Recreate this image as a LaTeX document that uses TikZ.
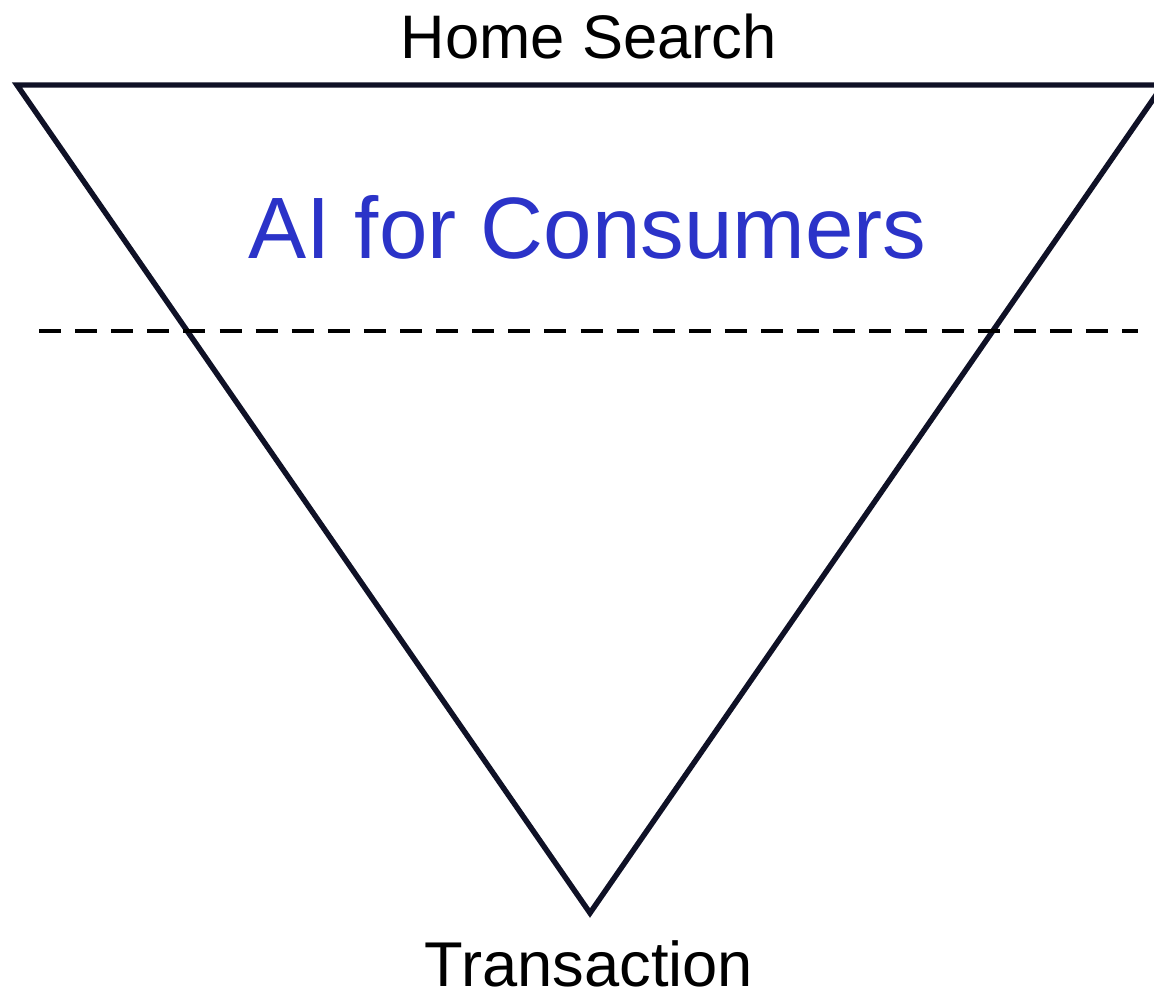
\documentclass[tikz,border=0pt]{standalone}
\usepackage{fontspec}
\setmainfont{Liberation Sans}
\definecolor{funnelline}{HTML}{0F1126}
\definecolor{aiblue}{HTML}{2B33C8}
\tikzset{
  funnel/.style={draw=funnelline, line width=3.1pt, line join=miter},
  stagecut/.style={draw=black, line width=2.7pt, dash pattern=on 0.44cm off 0.282cm},
  stagelabel/.style={anchor=base, text=black, font=\fontsize{35}{40}\selectfont},
  ailabel/.style={anchor=base, text=aiblue, font=\fontsize{49.6}{56}\selectfont}
}
\begin{document}
\begin{tikzpicture}
\useasboundingbox (0,0) rectangle (23.08,-19.82);

\coordinate (topleft) at (0.34,-1.70);
\coordinate (topright) at (23.26,-1.70);
\coordinate (tip) at (11.80,-18.26);
\coordinate (cutleft) at (0.78,-6.62);
\coordinate (cutright) at (22.76,-6.62);

\draw[funnel] (topleft) -- (topright) -- (tip) -- cycle;
\draw[stagecut] (cutleft) -- (cutright);

\node[stagelabel] (search) at (11.78,-1.16) {Home Search};
\node[ailabel] (consumers) at (11.75,-5.16) {AI for Consumers};
\node[stagelabel, font=\fontsize{36}{40}\selectfont] (deal) at (11.78,-19.72) {Transaction};
\end{tikzpicture}
\end{document}
